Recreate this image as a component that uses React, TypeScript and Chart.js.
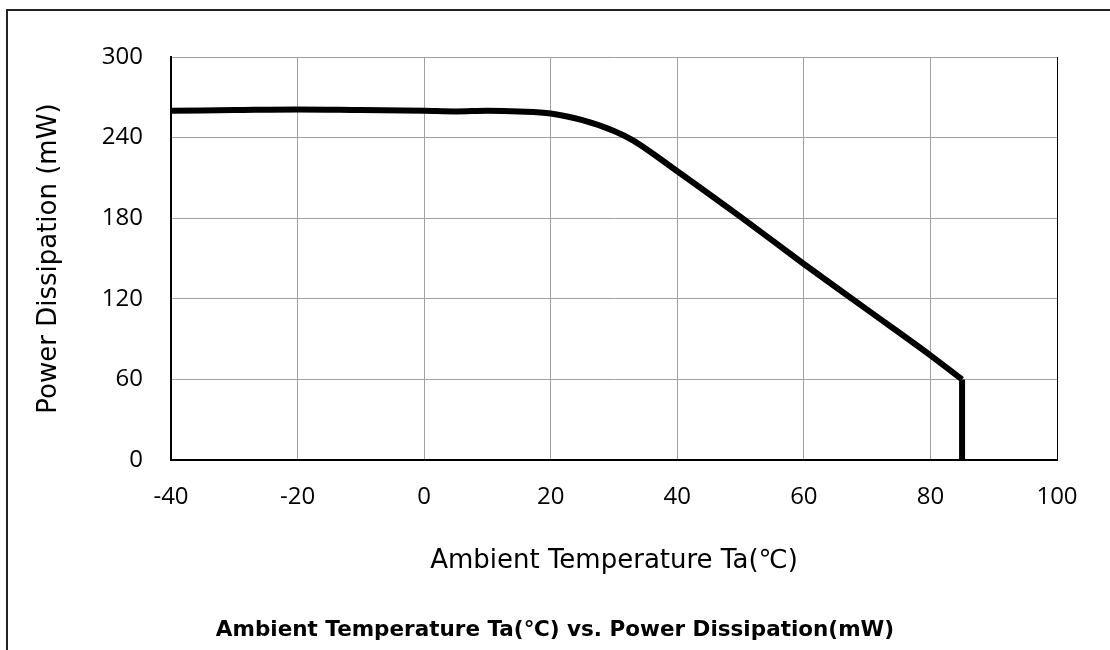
import React, { useEffect, useRef } from "react";
import { Chart, registerables } from "chart.js";

Chart.register(...registerables);

const tempValues = [-40, -30, -20, -10, 0, 5, 10, 15, 20, 25, 30, 33, 40, 50, 60, 70, 80, 85];
const powerValues = [260, 260.5, 261, 260.5, 260, 259.5, 260, 259.5, 258, 253, 245, 238, 215, 181, 146, 112, 78, 60];
const dropTemps = [85, 85];
const dropPowers = [60, 0];
const xTicks = [-40, -20, 0, 20, 40, 60, 80, 100];
const yTicks = [0, 60, 120, 180, 240, 300];

const xTitle = "Ambient Temperature Ta(℃)";
const yTitle = "Power Dissipation (mW)";
const chartTitle = "Ambient Temperature Ta(℃) vs. Power Dissipation(mW)";

const tickFont = "'Open Sans', 'Noto Sans CJK KR', sans-serif";
const axisTitleFont = "'DejaVu Sans', 'Open Sans', sans-serif";

export default function App() {
  const ref = useRef<HTMLCanvasElement | null>(null);

  useEffect(() => {
    if (!ref.current) return;
    const chart = new Chart(ref.current, {
      type: "line",
      data: {
        datasets: [
          {
            data: tempValues.map((x, i) => ({ x, y: powerValues[i] })),
            borderColor: "#000",
            borderWidth: 6,
            pointRadius: 0,
            cubicInterpolationMode: "monotone",
            fill: false,
          },
          {
            data: dropTemps.map((x, i) => ({ x, y: dropPowers[i] })),
            borderColor: "#000",
            borderWidth: 6,
            pointRadius: 0,
            fill: false,
          },
        ],
      },
      options: {
        responsive: false,
        animation: false,
        devicePixelRatio: 1,
        layout: { padding: { left: 0, top: 57, right: 0, bottom: 0 } },
        plugins: {
          legend: { display: false },
          tooltip: { enabled: false },
          title: {
            display: true,
            position: "bottom",
            text: chartTitle,
            color: "#000",
            font: { family: "'DejaVu Sans', Verdana, sans-serif", size: 21.5, weight: "bold" },
            padding: { top: 0, bottom: 7 },
          },
        },
        scales: {
          x: {
            type: "linear",
            min: -40,
            max: 100,
            afterBuildTicks: (s: any) => {
              s.ticks = xTicks.map((v) => ({ value: v }));
            },
            afterFit: (s: any) => {
              s.height = 157;
            },
            grid: {
              drawTicks: false,
              lineWidth: 1,
              color: (c: any) => (c.tick && c.tick.value === 100 ? "#000" : "#a0a0a0"),
            },
            border: { display: true, color: "#000", width: 2 },
            ticks: {
              color: "#000",
              padding: 23,
              font: { family: tickFont, size: 24 },
            },
            title: {
              display: true,
              text: xTitle,
              color: "#000",
              font: { family: axisTitleFont, size: 26 },
              padding: { top: 0, bottom: 40 },
            },
          },
          y: {
            type: "linear",
            min: 0,
            max: 300,
            afterBuildTicks: (s: any) => {
              s.ticks = yTicks.map((v) => ({ value: v }));
            },
            afterFit: (s: any) => {
              s.width = 171;
            },
            grid: {
              drawTicks: false,
              lineWidth: 1,
              color: "#a0a0a0",
            },
            border: { display: true, color: "#000", width: 2 },
            ticks: {
              color: "#000",
              padding: 28,
              font: { family: tickFont, size: 24 },
            },
            title: {
              display: true,
              text: yTitle,
              color: "#000",
              font: { family: axisTitleFont, size: 26 },
              padding: { top: 34, bottom: 0 },
            },
          },
          yRight: {
            type: "linear",
            position: "right",
            min: 0,
            max: 300,
            afterFit: (s: any) => {
              s.width = 53;
            },
            grid: { display: false, drawTicks: false },
            border: { display: false },
            ticks: { display: false },
          },
        },
      },
    });
    return () => chart.destroy();
  }, []);

  return (
    <div style={{ position: "absolute", left: 0, top: 0, width: 1110, height: 650, overflow: "hidden", background: "#fff" }}>
      <div
        style={{
          position: "absolute",
          left: 6,
          top: 9,
          width: 1104,
          height: 641,
          borderLeft: "2px solid #222",
          borderTop: "2px solid #222",
          boxSizing: "border-box",
        }}
      />
      <canvas ref={ref} width={1110} height={650} style={{ position: "absolute", left: 0, top: 0, width: 1110, height: 650 }} />
    </div>
  );
}
